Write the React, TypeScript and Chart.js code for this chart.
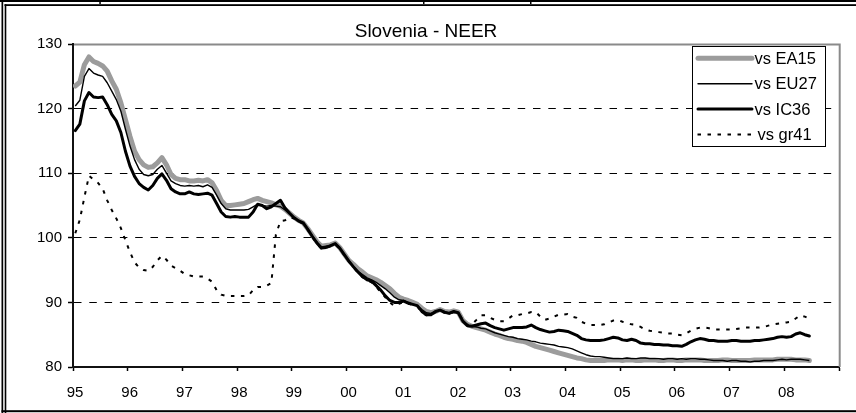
import React, { useEffect, useRef } from 'react';
import { Chart, registerables } from 'chart.js';

Chart.register(...registerables);

const chartTitle = 'Slovenia - NEER';
const seriesLabels = ['vs EA15', 'vs EU27', 'vs IC36', 'vs gr41'];
const xTickLabels = ['95', '96', '97', '98', '99', '00', '01', '02', '03', '04', '05', '06', '07', '08', ''];
const yMin = 80;
const yMax = 130;
const yStep = 10;

// Monthly values, Jan 1995 .. Jun 2008 (one row per year)
const vsEA15 = [
  123.5, 124.1, 126.8, 128.0, 127.3, 127.0, 126.6, 125.8, 124.3, 123.0, 120.9, 118.3,
  115.7, 113.4, 112.1, 111.3, 110.9, 111.0, 111.6, 112.4, 111.3, 109.8, 109.2, 109.0,
  109.0, 108.8, 108.8, 108.9, 108.8, 109.0, 108.5, 107.3, 105.8, 105.0, 105.0, 105.1,
  105.2, 105.3, 105.6, 105.9, 106.1, 105.8, 105.6, 105.4, 105.1, 104.9, 104.4, 103.8,
  103.2, 102.7, 102.3, 101.4, 100.4, 99.4, 98.7, 98.8, 98.9, 99.2, 98.5, 97.5,
  96.5, 95.9, 95.2, 94.7, 94.1, 93.8, 93.5, 93.1, 92.6, 92.1, 91.4, 90.8,
  90.5, 90.3, 90.0, 89.7, 89.1, 88.6, 88.4, 88.6, 88.9, 88.6, 88.5, 88.7,
  88.5, 87.2, 86.6, 86.3, 86.1, 85.9, 85.7, 85.4, 85.1, 84.9, 84.6, 84.4,
  84.3, 84.1, 84.0, 83.8, 83.5, 83.2, 83.0, 82.8, 82.6, 82.4, 82.2, 82.0,
  81.8, 81.6, 81.4, 81.3, 81.1, 81.0, 81.0, 81.0, 81.0, 81.1, 81.1, 81.1,
  81.0, 81.1, 81.1, 81.0, 81.0, 81.1, 81.1, 81.1, 81.0, 81.0, 81.1, 81.1,
  81.0, 81.0, 81.1, 81.1, 81.1, 81.1, 81.0, 81.0, 81.0, 81.0, 81.1, 81.1,
  81.0, 81.0, 81.0, 81.0, 81.0, 81.1, 81.1, 81.1, 81.1, 81.1, 81.2, 81.2,
  81.2, 81.2, 81.1, 81.1, 81.1, 81.0,
];

const vsEU27 = [
  120.4, 121.3, 125.0, 126.2, 125.5, 125.2, 125.0, 124.0, 122.7, 121.4, 119.6, 116.8,
  114.2, 112.1, 110.6, 109.8, 109.6, 109.8, 110.6, 111.2, 110.0, 108.8, 108.4, 108.1,
  108.0, 108.1, 108.0, 108.1, 107.9, 108.2, 107.8, 106.6, 105.3, 104.5, 104.3, 104.3,
  104.3, 104.3, 104.4, 104.8, 105.2, 105.0, 104.9, 105.0, 104.9, 104.8, 104.3, 103.7,
  103.1, 102.6, 102.2, 101.3, 100.3, 99.3, 98.6, 98.7, 98.8, 99.1, 98.4, 97.4,
  96.4, 95.6, 94.8, 94.3, 93.8, 93.5, 93.1, 92.6, 92.1, 91.5, 90.8, 90.4,
  90.3, 90.0, 89.7, 89.5, 88.9, 88.4, 88.3, 88.6, 88.8, 88.5, 88.4, 88.6,
  88.4, 87.1, 86.4, 86.3, 86.2, 86.0, 85.9, 85.6, 85.3, 85.1, 84.9, 84.7,
  84.6, 84.4, 84.3, 84.2, 84.0, 83.9, 83.7, 83.6, 83.5, 83.4, 83.2, 83.1,
  83.0, 82.8, 82.5, 82.2, 81.9, 81.7, 81.6, 81.6, 81.5, 81.4, 81.3, 81.3,
  81.3, 81.4, 81.3, 81.3, 81.4, 81.4, 81.3, 81.3, 81.3, 81.2, 81.3, 81.3,
  81.2, 81.3, 81.2, 81.3, 81.3, 81.2, 81.2, 81.1, 81.0, 81.0, 81.0, 80.9,
  81.0, 81.0, 80.9, 80.9, 80.8, 80.9, 80.9, 81.0, 81.0, 81.0, 81.1, 81.2,
  81.1, 81.2, 81.2, 81.2, 81.1, 81.0,
];

const vsIC36 = [
  116.6, 117.6, 121.2, 122.5, 121.8, 121.7, 121.8, 120.6, 119.1, 118.1, 116.3, 113.4,
  111.1, 109.5, 108.4, 107.8, 107.4, 108.1, 109.2, 109.9, 108.9, 107.6, 107.1, 106.8,
  106.8, 107.1, 106.8, 106.7, 106.8, 106.9, 106.6, 105.3, 104.0, 103.3, 103.2, 103.3,
  103.2, 103.2, 103.2, 104.0, 105.2, 105.0, 104.5, 104.8, 105.3, 105.8, 104.6, 103.8,
  103.1, 102.6, 102.3, 101.3, 100.2, 99.2, 98.4, 98.5, 98.8, 99.1, 98.4, 97.4,
  96.4, 95.5, 94.7, 94.0, 93.5, 93.3, 92.6, 91.9, 91.0, 90.3, 90.0, 90.0,
  90.2, 89.9, 89.7, 89.5, 88.6, 88.1, 88.1, 88.6, 88.8, 88.5, 88.3, 88.6,
  88.4, 87.1, 86.4, 86.3, 86.5, 86.7, 86.8, 86.4, 86.1, 85.9, 85.7, 85.9,
  86.1, 86.1, 86.1, 86.2, 86.5, 86.1, 85.8, 85.6, 85.4, 85.5, 85.7, 85.6,
  85.5, 85.2, 84.9, 84.4, 84.2, 84.1, 84.1, 84.1, 84.2, 84.4, 84.6, 84.5,
  84.2, 84.1, 84.3, 84.1, 83.7, 83.6, 83.6, 83.5, 83.5, 83.4, 83.4, 83.3,
  83.3, 83.2, 83.5, 83.9, 84.2, 84.4, 84.3, 84.1, 84.1, 84.0, 84.0, 84.0,
  84.1, 84.1, 84.0, 84.0, 84.0, 84.1, 84.1, 84.2, 84.3, 84.4, 84.6, 84.7,
  84.6, 84.7, 85.1, 85.3, 85.0, 84.8,
];

const vsGR41 = [
  100.7, 102.8, 106.3, 109.6, 109.0, 108.5, 107.6, 105.8, 104.3, 103.0, 101.5, 99.6,
  97.8, 96.2, 95.4, 95.0, 94.9, 95.5, 96.5, 97.2, 96.6, 95.7, 95.3, 94.9,
  94.4, 94.2, 94.0, 94.0, 94.0, 93.7, 93.2, 91.9, 91.2, 91.0, 91.0, 91.0,
  91.0, 91.0, 91.1, 91.9, 92.4, 92.4, 92.6, 93.0, 100.5, 102.6, 102.7, 103.2,
  103.0, 102.5, 102.2, 101.2, 100.1, 99.1, 98.3, 98.4, 98.7, 99.0, 98.3, 97.3,
  96.3, 95.4, 94.6, 93.9, 93.4, 93.1, 92.4, 91.6, 90.8, 90.0, 89.4, 89.8,
  90.0, 89.8, 89.6, 89.4, 88.5, 88.0, 88.0, 88.5, 88.7, 88.4, 88.2, 88.5,
  88.4, 87.2, 86.5, 86.6, 87.3, 88.0, 88.0, 87.6, 87.3, 87.1, 87.1, 87.5,
  88.0, 88.0, 88.2, 88.3, 88.5, 88.5, 87.8, 87.3, 87.5, 87.8, 88.1, 88.1,
  88.2, 87.8, 87.6, 87.0, 86.7, 86.5, 86.5, 86.5, 86.6, 86.9, 87.2, 87.3,
  87.0, 86.8, 86.6, 86.5, 86.2, 85.8, 85.6, 85.5, 85.4, 85.3, 85.2, 85.2,
  85.0, 84.9, 85.2, 85.6, 85.9, 86.1, 86.1, 86.0, 85.8, 85.8, 85.8, 85.8,
  85.8, 85.9, 86.0, 86.1, 86.1, 86.1, 86.1, 86.2, 86.4, 86.6, 86.7, 86.8,
  86.9, 87.0, 87.5, 88.0, 87.8, 87.5,
];

const FONT = '"Liberation Sans", Arial, Helvetica, sans-serif';

const toPoints = (arr: number[]) => arr.map((v, i) => ({ x: i + 0.5, y: v }));

const framePlugin = {
  id: 'frame',
  beforeDraw(chart: any) {
    const { ctx, width, height } = chart;
    ctx.save();
    ctx.fillStyle = '#ffffff';
    ctx.fillRect(0, 0, width, height);
    ctx.fillStyle = '#000000';
    // outer double frame
    ctx.fillRect(0, 0, width, 2);
    ctx.fillRect(4.5, 4.2, width - 4.5, 1.8);
    ctx.fillRect(1.5, 0, 1.7, height);
    ctx.fillRect(4.7, 4.2, 1.6, height - 4.2);
    ctx.fillRect(1.5, 410.2, width - 1.5, 2);
    // remnants of cells above
    ctx.fillRect(99.3, 0, 1.5, 4);
    ctx.fillRect(423, 0, 1.5, 4);
    ctx.fillRect(530, 0, 1.5, 4);
    // title
    ctx.font = `19px ${FONT}`;
    ctx.textAlign = 'center';
    ctx.textBaseline = 'alphabetic';
    ctx.fillText(chartTitle, 426, 36.7);
    ctx.restore();
  },
  beforeDatasetsDraw(chart: any) {
    const { ctx, chartArea } = chart;
    ctx.save();
    ctx.strokeStyle = '#8a8a8a';
    ctx.lineWidth = 2;
    ctx.beginPath();
    ctx.moveTo(chartArea.left + 1, chartArea.top + 0.5);
    ctx.lineTo(chartArea.right + 0.7, chartArea.top + 0.5);
    ctx.lineTo(chartArea.right + 0.7, chartArea.bottom);
    ctx.stroke();
    ctx.restore();
  },
  afterDatasetsDraw(chart: any) {
    const { ctx } = chart;
    ctx.save();
    ctx.fillStyle = '#ffffff';
    ctx.fillRect(692.5, 46.5, 133, 100);
    ctx.strokeStyle = '#000000';
    ctx.lineWidth = 1;
    ctx.setLineDash([]);
    ctx.strokeRect(692.5, 46.5, 133, 100);
    chart.data.datasets.forEach((ds: any, i: number) => {
      const y = 58.3 + i * 25.4;
      ctx.beginPath();
      ctx.strokeStyle = ds.borderColor;
      ctx.lineWidth = ds.borderWidth;
      ctx.setLineDash(ds.borderDash || []);
      ctx.lineCap = ds.borderDash ? 'butt' : 'round';
      ctx.moveTo(ds.borderDash ? 697.5 : 698, y);
      ctx.lineTo(752, y);
      ctx.stroke();
      ctx.setLineDash([]);
      ctx.fillStyle = '#000000';
      ctx.font = `16.5px ${FONT}`;
      ctx.textAlign = 'left';
      ctx.textBaseline = 'middle';
      ctx.fillText(ds.label, ds.borderDash ? 757.5 : 754.5, y + 1.2);
    });
    ctx.restore();
  },
};

export default function App() {
  const canvasRef = useRef<HTMLCanvasElement | null>(null);

  useEffect(() => {
    if (!canvasRef.current) return;
    Chart.defaults.font.family = FONT;
    const chart = new Chart(canvasRef.current, {
      type: 'line',
      data: {
        datasets: [
          {
            label: seriesLabels[0],
            data: toPoints(vsEA15),
            borderColor: '#9c9c9c',
            borderWidth: 5,
            pointRadius: 0,
            tension: 0,
            borderJoinStyle: 'round',
            borderCapStyle: 'round',
            order: 4,
          },
          {
            label: seriesLabels[1],
            data: toPoints(vsEU27),
            borderColor: '#000000',
            borderWidth: 1.4,
            pointRadius: 0,
            tension: 0,
            borderJoinStyle: 'round',
            order: 3,
          },
          {
            label: seriesLabels[2],
            data: toPoints(vsIC36),
            borderColor: '#000000',
            borderWidth: 3,
            pointRadius: 0,
            tension: 0,
            borderJoinStyle: 'round',
            borderCapStyle: 'round',
            order: 2,
          },
          {
            label: seriesLabels[3],
            data: toPoints(vsGR41),
            borderColor: '#000000',
            borderWidth: 2,
            borderDash: [3.5, 6.5],
            pointRadius: 0,
            tension: 0,
            order: 1,
          },
        ],
      } as any,
      plugins: [framePlugin],
      options: {
        animation: false,
        responsive: false,
        devicePixelRatio: 1,
        events: [],
        layout: { padding: { top: 44, right: 17, left: 0, bottom: 0 } },
        plugins: {
          legend: { display: false },
          title: { display: false },
          tooltip: { enabled: false },
        },
        scales: {
          x: {
            type: 'linear',
            min: 0,
            max: (xTickLabels.length - 1) * 12,
            afterFit: (scale: any) => {
              scale.height = 46;
            },
            ticks: {
              stepSize: 12,
              autoSkip: false,
              maxRotation: 0,
              padding: 13,
              labelOffset: 2,
              color: '#000000',
              font: { size: 15, family: FONT },
              callback: (value: any) => xTickLabels[Math.round(Number(value) / 12)] ?? '',
            },
            grid: {
              drawOnChartArea: false,
              drawTicks: true,
              tickLength: 4,
              tickColor: '#000000',
              tickWidth: 1.5,
              color: '#000000',
            },
            border: { display: true, color: '#111111', width: 2 },
          },
          y: {
            min: yMin,
            max: yMax,
            afterFit: (scale: any) => {
              scale.width = 73;
            },
            ticks: {
              stepSize: yStep,
              padding: 6,
              color: '#000000',
              font: { size: 15, family: FONT },
            },
            grid: {
              drawTicks: true,
              tickLength: 5,
              tickColor: '#000000',
              tickWidth: 1.5,
              lineWidth: 1,
              color: (ctx: any) =>
                ctx.tick && (ctx.tick.value === yMin || ctx.tick.value === yMax) ? 'rgba(0,0,0,0)' : '#000000',
            },
            border: { display: true, color: '#111111', width: 2, dash: [7.5, 7.8] },
          },
        },
      } as any,
    });
    return () => chart.destroy();
  }, []);

  return (
    <div style={{ position: 'absolute', left: 0, top: 0, width: 856, height: 413, background: '#ffffff' }}>
      <canvas ref={canvasRef} width={856} height={413} style={{ display: 'block', width: 856, height: 413 }} />
    </div>
  );
}
